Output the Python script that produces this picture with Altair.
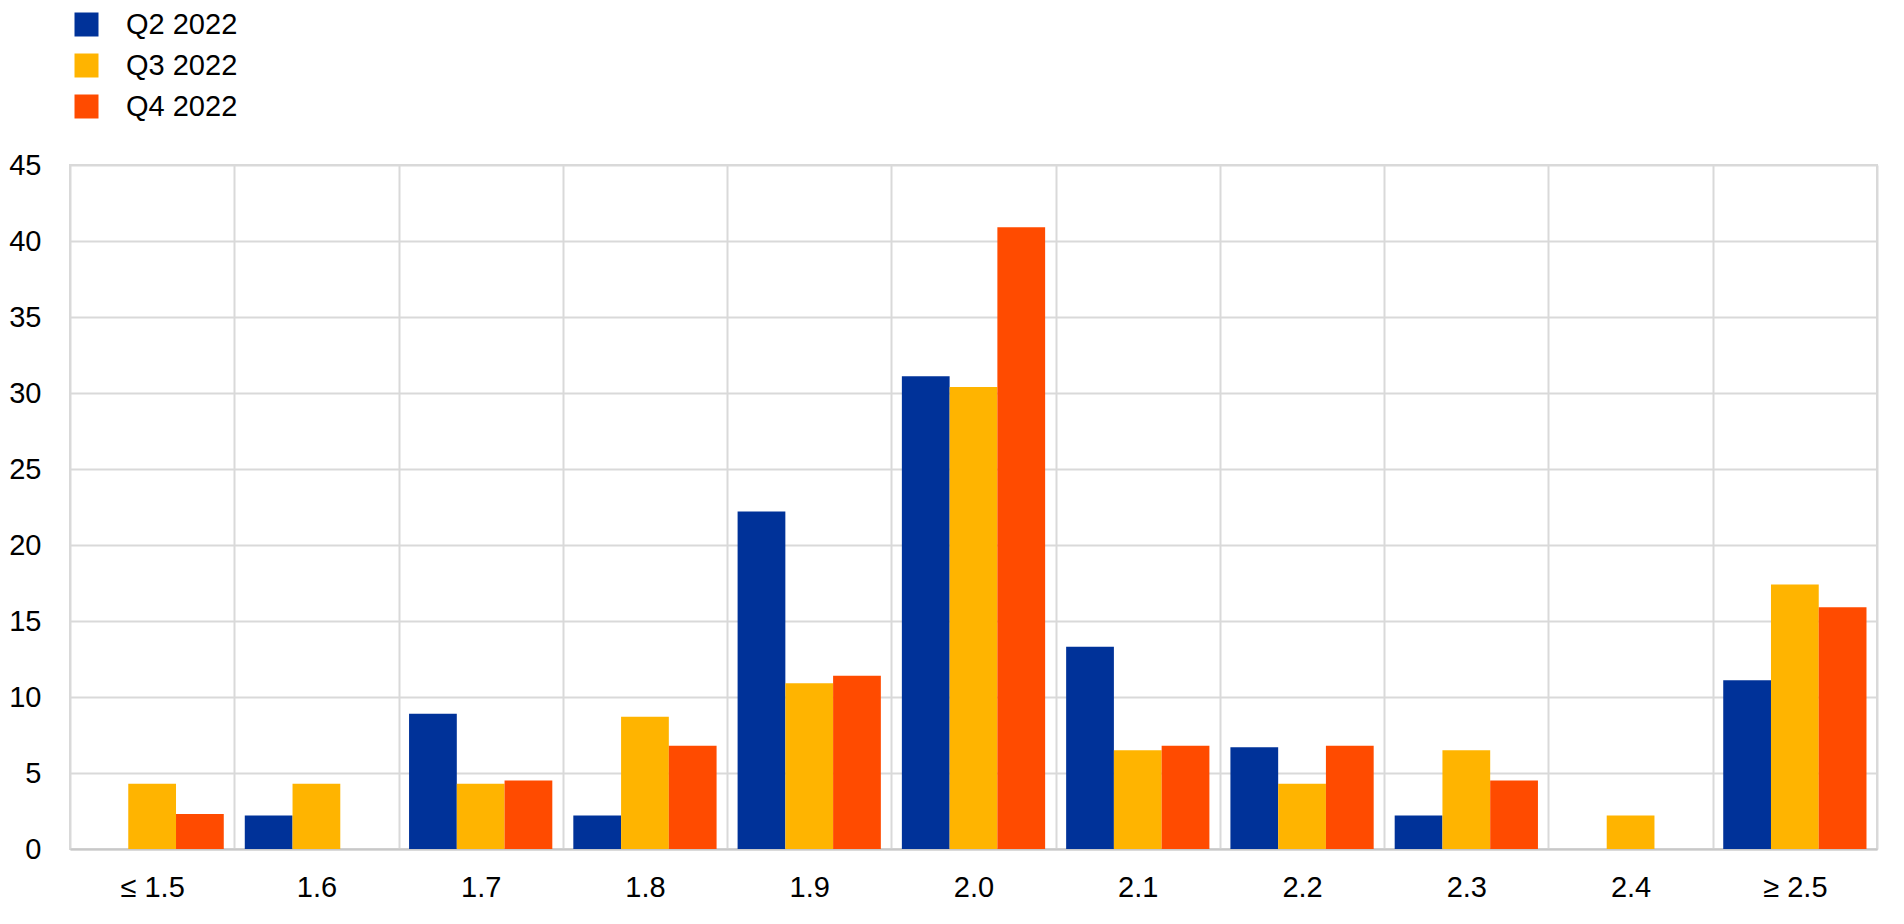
import altair as alt
import pandas as pd

categories = ["≤ 1.5", "1.6", "1.7", "1.8", "1.9", "2.0", "2.1", "2.2", "2.3", "2.4", "≥ 2.5"]
series = ["Q2 2022", "Q3 2022", "Q4 2022"]
q2_2022 = [0.0, 2.2, 8.9, 2.2, 22.2, 31.1, 13.3, 6.7, 2.2, 0.0, 11.1]
q3_2022 = [4.3, 4.3, 4.3, 8.7, 10.9, 30.4, 6.5, 4.3, 6.5, 2.2, 17.4]
q4_2022 = [2.3, 0.0, 4.5, 6.8, 11.4, 40.9, 6.8, 6.8, 4.5, 0.0, 15.9]
colors = ["#003299", "#FFB400", "#FF4B00"]

rows = []
for s, vals in zip(series, [q2_2022, q3_2022, q4_2022]):
    for c, v in zip(categories, vals):
        rows.append({"category": c, "series": s, "value": v})
df = pd.DataFrame(rows)

FONT = "Liberation Sans"

chart = alt.Chart(df).mark_bar().encode(
    x=alt.X(
        "category:N",
        sort=categories,
        scale=alt.Scale(paddingInner=0, paddingOuter=0),
        axis=alt.Axis(
            title=None,
            labelAngle=0,
            tickBand="extent",
            grid=True,
            gridColor="#d9d9d9",
            gridWidth=2,
            ticks=False,
            domain=True,
            domainColor="#c8c8c8",
            domainWidth=2,
            labelFont=FONT,
            labelFontSize=29,
            labelColor="#000000",
            labelPadding=24,
        ),
    ),
    xOffset=alt.XOffset(
        "series:N",
        sort=series,
        scale=alt.Scale(paddingInner=0, paddingOuter=0.22),
    ),
    y=alt.Y(
        "value:Q",
        scale=alt.Scale(domain=[0, 45], nice=False),
        axis=alt.Axis(
            title=None,
            values=list(range(0, 50, 5)),
            grid=True,
            gridColor="#d9d9d9",
            gridWidth=2,
            ticks=False,
            domain=False,
            labelFont=FONT,
            labelFontSize=29,
            labelColor="#000000",
            labelPadding=29,
        ),
    ),
    color=alt.Color(
        "series:N",
        sort=series,
        scale=alt.Scale(domain=series, range=colors),
        legend=alt.Legend(
            title=None,
            orient="none",
            legendX=2,
            legendY=-155,
            direction="vertical",
            symbolType="square",
            symbolSize=576,
            symbolStrokeWidth=0,
            labelFont=FONT,
            labelFontSize=29,
            labelColor="#000000",
            labelOffset=25,
            rowPadding=11,
        ),
    ),
).properties(
    width=1807,
    height=684,
    autosize="none",
    padding={"left": 62, "top": 157, "right": 10, "bottom": 60},
).configure_view(
    stroke="#d9d9d9",
    strokeWidth=2,
)

chart.save("out.html", embed_options={"renderer": "svg", "actions": False})
